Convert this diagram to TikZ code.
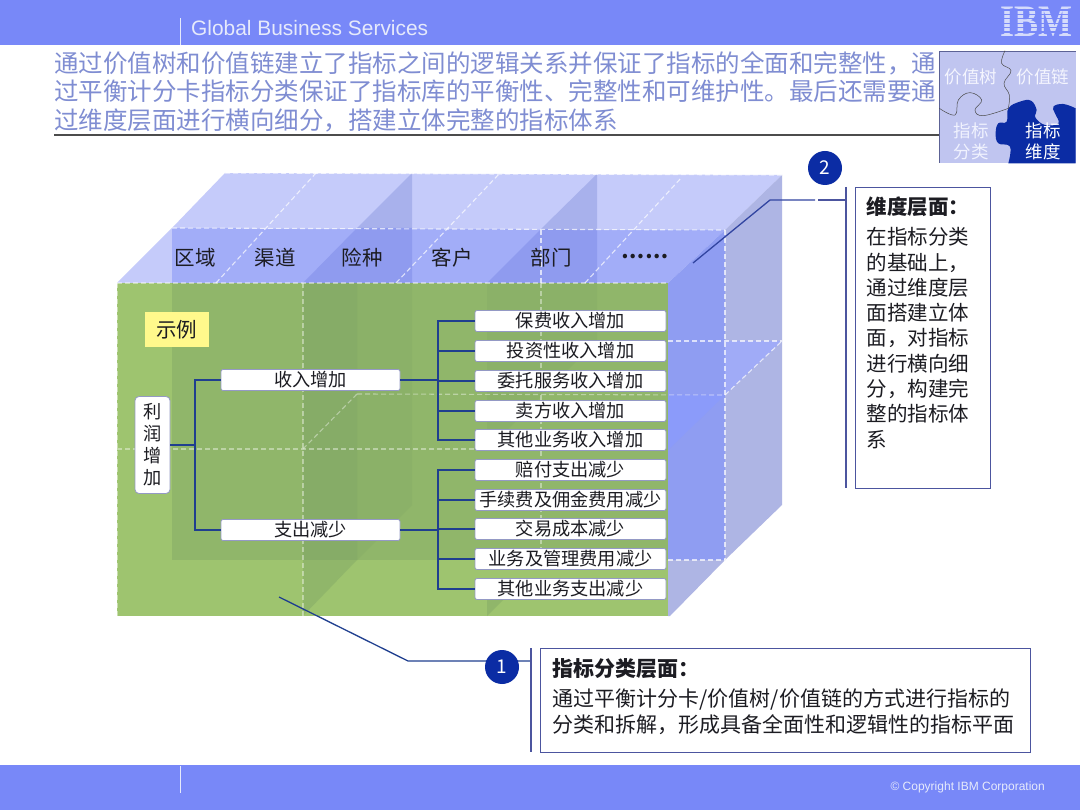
\documentclass[tikz,border=0pt]{standalone}
\usepackage{fontspec}
\setmainfont{Noto Sans CJK SC}
\newfontfamily\latinfont{Liberation Sans}
\newfontfamily\logofont{Liberation Serif}
\usetikzlibrary{calc,positioning}
\definecolor{barra}{HTML}{7888F8}
\definecolor{barratxt}{HTML}{E6EAFB}
\definecolor{titulo}{HTML}{7F8DD2}
\definecolor{tinta}{HTML}{1C1C22}
\definecolor{azulprof}{HTML}{0B2CA4}
\definecolor{marino}{HTML}{1F3F8F}
\definecolor{borde}{HTML}{4C559F}
\definecolor{caratop}{HTML}{C5CBFA}
\definecolor{caramed}{HTML}{A2ADF8}
\definecolor{caraosc}{HTML}{8F9BEF}
\definecolor{sombra}{HTML}{A8B1EC}
\definecolor{lado}{HTML}{8F9DF2}
\definecolor{ladoclaro}{HTML}{AEB5E4}
\definecolor{ladovivo}{HTML}{8B9BFA}
\definecolor{verde}{HTML}{9EC46F}
\definecolor{verdeosc}{HTML}{6F9560}
\tikzset{
  banda/.style={fill=barra,draw=none},
  separa/.style={draw=barratxt,line width=0.8pt},
  tenue/.style={fill=verdeosc,draw=none,fill opacity=0.28},
  corte/.style={draw=white,opacity=0.7,line width=1.1pt,dash pattern=on 5pt off 3pt},
  dimen/.style={font=\fontsize{20.5}{24}\selectfont,text=tinta,inner sep=0pt},
  hoja/.style={fill=white,draw=borde!60,line width=0.8pt,rounded corners=2pt,minimum width=191pt,minimum height=21pt,inner sep=0pt,font=\fontsize{18.2}{22}\selectfont,text=tinta},
  rama/.style={hoja,minimum width=179pt},
  raiz/.style={hoja,minimum width=35pt,minimum height=97pt,rounded corners=4pt,align=center},
  enlace/.style={draw=marino,line width=1.4pt},
  aviso/.style={draw=marino,line width=1.3pt},
  regla/.style={draw=borde,line width=1.2pt},
  numero/.style={circle,fill=azulprof,text=white,minimum size=34pt,inner sep=0pt,font=\fontsize{19}{22}\selectfont},
  nota/.style={draw=borde,fill=white,line width=1.4pt,inner sep=0pt,anchor=north west,font=\fontsize{20.5}{25.3}\selectfont,text=tinta},
  pieza/.style={font=\fontsize{17.5}{21}\selectfont,align=center,inner sep=0pt},
}
\begin{document}
\begin{tikzpicture}[x=1pt,y=-1pt]
\useasboundingbox (0,0) rectangle (1080,810);
\fill[white] (0,0) rectangle (1080,810);
\fill[banda] (0,0) rectangle (1080,45);
\fill[banda] (0,765) rectangle (1080,810);
\coordinate (sepa1) at (180,18);
\coordinate (sepa2) at (180,45);
\coordinate (sepa3) at (180,766);
\coordinate (sepa4) at (180,793);
\draw[separa] (sepa1) -- (sepa2);
\draw[separa] (sepa3) -- (sepa4);
\node[anchor=west,inner sep=0pt,text=barratxt,font=\latinfont\fontsize{20.9}{24}\selectfont] (gbs) at (191,28) {Global Business Services};
\node[anchor=east,inner sep=0pt,text=barratxt,font=\latinfont\fontsize{12}{14}\selectfont] (copia) at (1045,787) {© Copyright IBM Corporation};
\node[inner sep=0pt,text=barratxt!85!barra,font=\logofont\bfseries\fontsize{45}{48}\selectfont] (ibm) at (1036,22) {\scalebox{0.8}[1]{IBM}};
\foreach \y in {10,14.4,18.8,23.2,27.6,32,36.4}
  \draw[barra,line width=1.3pt] (995,\y) -- (1076,\y);

\node[anchor=north west,inner sep=0pt,align=left,text=titulo,font=\fontsize{24.5}{28.6}\selectfont] (tit) at (54,51) {通过价值树和价值链建立了指标之间的逻辑关系并保证了指标的全面和完整性，通\\过平衡计分卡指标分类保证了指标库的平衡性、完整性和可维护性。最后还需要通\\过维度层面进行横向细分，搭建立体完整的指标体系};
\coordinate (tit1) at (54,135);
\coordinate (tit2) at (940,135);
\draw[black!70,line width=1.3pt] (tit1) -- (tit2);

% puzzle
\fill[caratop!92!gray] (939,51) rectangle (1076,163);
\draw[borde!70!gray,line width=0.7pt] (939,163) -- (939,51) -- (1076,51);
\begin{scope}[shift={(930,0)},x=0.3333pt,y=-0.3333pt]
\fill[azulprof] plot[smooth,tension=0.7] coordinates {(235,490) (240,440) (205,430) (197,400) (205,370) (230,365) (235,325) (270,305) (303,302) (320,330) (316,352) (345,375) (385,370) (375,340) (370,320) (400,312) (437,325)} -- (437,490) -- cycle;
\draw[black!70,line width=0.5pt] plot[smooth,tension=0.7] coordinates {(225,152) (215,190) (243,212) (222,250) (238,285) (235,325)};
\draw[black!70,line width=0.5pt] plot[smooth,tension=0.7] coordinates {(28,325) (75,345) (85,300) (120,278) (155,300) (135,330) (160,347) (235,325)};
\end{scope}
\node[pieza,text=white!80!caratop] (pz1) at (971,77) {价值树};
\node[pieza,text=white!80!caratop] (pz2) at (1043,77) {价值链};
\node[pieza,text=white!75!caratop] (pz3) at (971,141) {指标\\分类};
\node[pieza,text=white] (pz4) at (1043,141) {指标\\维度};

% cubo
\fill[caratop] (172,228) -- (225,173) -- (782,175) -- (725,230) -- cycle;
\fill[caratop] (117,283) -- (172,228) -- (172,283) -- cycle;
\fill[caramed] (172,228) -- (725,230) -- (668,283) -- (172,283) -- cycle;
\fill[sombra] (357,228) -- (412,173) -- (412,228) -- cycle;
\fill[sombra] (541,229) -- (597,174) -- (597,230) -- cycle;
\fill[caraosc] (303,283) -- (357,228) -- (412,228) -- (412,283) -- cycle;
\fill[caraosc] (487,283) -- (541,229) -- (597,230) -- (597,283) -- cycle;
\fill[lado] (668,283) -- (725,230) -- (725,560) -- (668,560) -- cycle;
\fill[ladoclaro] (725,230) -- (782,175) -- (782,505) -- (725,560) -- cycle;
\fill[caramed!90!lado] (725,341) -- (782,341) -- (725,395) -- cycle;
\fill[ladovivo] (668,395) -- (725,395) -- (668,450) -- cycle;
\fill[ladoclaro] (668,560) -- (725,560) -- (670,616) -- (668,616) -- cycle;

\fill[verde] (117,283) rectangle (668,616);
\fill[tenue] (172,283) rectangle (668,560);
\fill[tenue] (303,283) -- (357,283) -- (357,560) -- (303,616) -- cycle;
\fill[tenue,fill opacity=0.15] (357,283) -- (412,283) -- (412,505) -- (357,560) -- cycle;
\fill[tenue,fill opacity=0.15] (487,283) -- (597,283) -- (597,341) -- (487,450) -- cycle;
\fill[tenue] (487,616) -- (487,598) -- (505,598) -- cycle;

\draw[corte] (225,173) -- (782,175);
\draw[corte] (172,228) -- (725,230);
\draw[corte,opacity=0.45] (117,283) -- (668,283);
\draw[corte,opacity=0.45] (117,283) -- (117,616);
\draw[corte] (216,283) -- (316,173);
\draw[corte] (396,283) -- (500,173);
\draw[corte] (585,283) -- (682,177);
\draw[corte,opacity=0.4] (303,283) -- (303,616);
\draw[corte,opacity=0.4] (541,283) -- (541,560);
\draw[corte] (541,230) -- (541,283);
\draw[corte] (725,230) -- (725,560);
\draw[corte,opacity=0.4] (117,449) -- (668,449);
\draw[corte,opacity=0.4] (357,394) -- (725,395);
\draw[corte,opacity=0.4] (303,449) -- (357,394);
\draw[corte] (668,341) -- (782,341);
\draw[corte] (725,395) -- (782,341);
\draw[corte] (668,560) -- (725,560);

\node[dimen] (dim1) at (195,258) {区域};
\node[dimen] (dim2) at (275,258) {渠道};
\node[dimen] (dim3) at (362,258) {险种};
\node[dimen] (dim4) at (452,258) {客户};
\node[dimen] (dim5) at (551,258) {部门};
\node[dimen,font=\bfseries\fontsize{20.5}{24}\selectfont] (dim6) at (645,257) {……};

\node[fill=yellow!45!white,minimum width=64pt,minimum height=35pt,inner sep=0pt,text=tinta,font=\fontsize{20.5}{24}\selectfont] (ejemplo) at (176.5,329.5) {示例};

% arbol
\node[raiz] (raizn) at (152.5,445) {利\\润\\增\\加};
\node[rama] (ingreso) at (310.5,380) {收入增加};
\node[rama] (gasto) at (310.5,530) {支出减少};
\coordinate (busroot) at (195,445);
\coordinate (busa) at (438,380);
\coordinate (busb) at (438,530);
\foreach \n/\y/\t in {h1/321/保费收入增加,h2/351/投资性收入增加,h3/381/委托服务收入增加,h4/411/卖方收入增加,h5/440/其他业务收入增加}{
  \node[hoja] (\n) at (570.5,\y) {\t};
  \draw[enlace] (busa) |- (\n.west);
}
\foreach \n/\y/\t in {h6/470/赔付支出减少,h7/500/手续费及佣金费用减少,h8/529/交易成本减少,h9/559/业务及管理费用减少,h10/589/其他业务支出减少}{
  \node[hoja] (\n) at (570.5,\y) {\t};
  \draw[enlace] (busb) |- (\n.west);
}
\draw[enlace] (raizn.east) -- (busroot);
\draw[enlace] (busroot) |- (ingreso.west);
\draw[enlace] (busroot) |- (gasto.west);
\draw[enlace] (ingreso.east) -- (busa);
\draw[enlace] (gasto.east) -- (busb);

% nota 1
\coordinate (av1a) at (279,597);
\coordinate (av1b) at (408,661);
\coordinate (reg1a) at (531,648);
\coordinate (reg1b) at (531,752);
\draw[aviso] (av1a) -- (av1b) -- (av1b -| reg1a);
\draw[regla] (reg1a) -- (reg1b);
\node[numero] (num1) at (502,667) {1};
\node[nota,minimum width=490pt,minimum height=104pt,font=\fontsize{21}{26}\selectfont] (nota1) at (540,648) {\parbox[c][104pt][t]{466pt}{\vspace{10pt}{\bfseries 指标分类层面：}\\[4pt]通过平衡计分卡/价值树/价值链的方式进行指标的\\分类和拆解，形成具备全面性和逻辑性的指标平面}};

% nota 2
\coordinate (av2a) at (693,263);
\coordinate (av2b) at (770,200);
\coordinate (av2c) at (815,200);
\coordinate (av2d) at (818,200);
\coordinate (reg2a) at (846,187);
\coordinate (reg2b) at (846,488);
\draw[aviso,draw=borde!60!azulprof] (av2a) -- (av2b) -- (av2c);
\draw[regla] (av2d) -- (av2d -| reg2a);
\draw[regla] (reg2a) -- (reg2b);
\node[numero] (num2) at (825,168) {2};
\node[nota,minimum width=135pt,minimum height=301pt] (nota2) at (855,187) {\parbox[c][301pt][t]{113pt}{\vspace{9pt}{\bfseries 维度层面：}\\[5pt]在指标分类\\的基础上，\\通过维度层\\面搭建立体\\面，对指标\\进行横向细\\分，构建完\\整的指标体\\系}};
\end{tikzpicture}
\end{document}
